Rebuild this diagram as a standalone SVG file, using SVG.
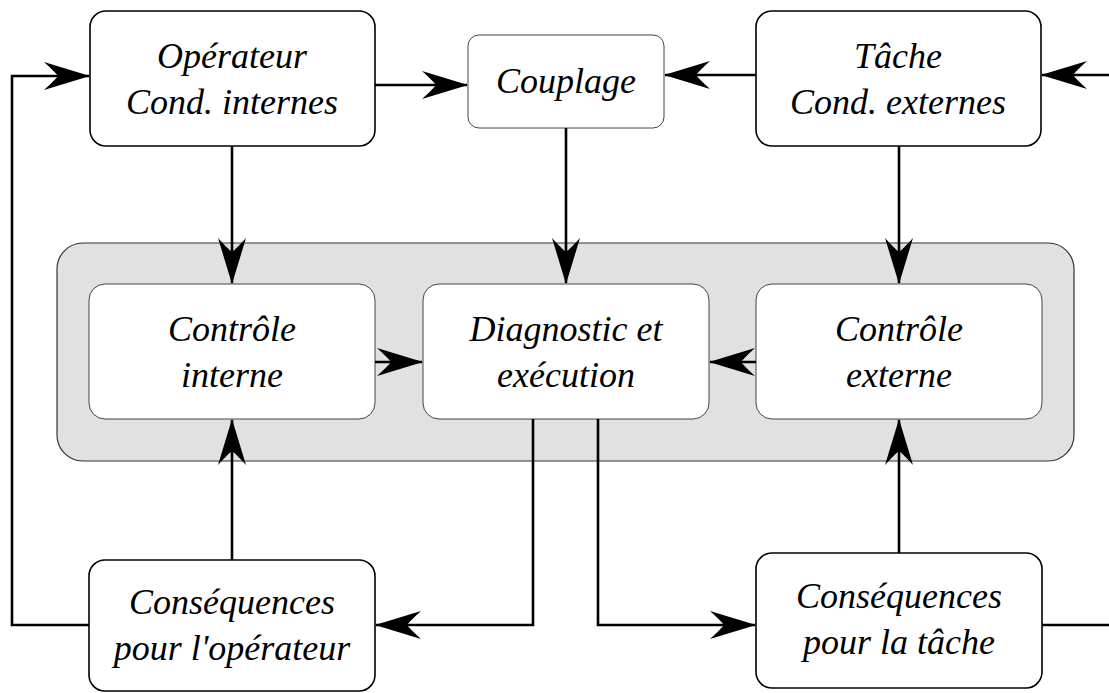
<svg xmlns="http://www.w3.org/2000/svg" width="1109" height="693" viewBox="0 0 1109 693">
  <style>
    .box { fill: #ffffff; stroke: #000000; stroke-width: 1.6; }
    .thin { stroke: #444444; stroke-width: 1; }
    .panel { fill: #e1e1e1; stroke: #333333; stroke-width: 1.2; }
    .lbl { font-family: "Liberation Serif", "DejaVu Serif", serif; font-style: italic; font-size: 36px; fill: #000000; text-anchor: middle; }
    .wire { fill: none; stroke: #000000; stroke-width: 2.6; stroke-linejoin: miter; }
  </style>
  <defs>
    <marker id="dart" markerUnits="userSpaceOnUse" viewBox="-48 -16 50 32" refX="0" refY="0" markerWidth="50" markerHeight="32" orient="auto">
      <path d="M1,0 L-45,-14 Q-34,-4 -31,0 Q-34,4 -45,14 Z" fill="#000000"/>
    </marker>
  </defs>

  <!-- shaded control block -->
  <rect id="panel" class="panel" x="57" y="243" width="1017" height="218" rx="26" ry="26"/>

  <g id="operateur">
    <rect class="box" x="90" y="11" width="285" height="135" rx="16"/>
    <text class="lbl" x="232" y="68">Opérateur</text>
    <text class="lbl" x="232" y="114">Cond. internes</text>
  </g>

  <g id="couplage">
    <rect class="box thin" x="468" y="35" width="196" height="93" rx="11"/>
    <text class="lbl" x="566" y="93">Couplage</text>
  </g>

  <g id="tache">
    <rect class="box" x="756" y="11" width="285" height="135" rx="16"/>
    <text class="lbl" x="898" y="68">Tâche</text>
    <text class="lbl" x="898" y="114">Cond. externes</text>
  </g>

  <g id="controle-interne">
    <rect class="box thin" x="89" y="284" width="286" height="135" rx="16"/>
    <text class="lbl" x="232" y="341">Contrôle</text>
    <text class="lbl" x="232" y="387">interne</text>
  </g>

  <g id="diagnostic">
    <rect class="box thin" x="423" y="284" width="286" height="135" rx="16"/>
    <text class="lbl" x="566" y="341">Diagnostic et</text>
    <text class="lbl" x="566" y="387">exécution</text>
  </g>

  <g id="controle-externe">
    <rect class="box thin" x="756" y="284" width="286" height="135" rx="16"/>
    <text class="lbl" x="899" y="341">Contrôle</text>
    <text class="lbl" x="899" y="387">externe</text>
  </g>

  <g id="consequences-operateur">
    <rect class="box" x="89" y="560" width="286" height="131" rx="16"/>
    <text class="lbl" x="232" y="614">Conséquences</text>
    <text class="lbl" x="232" y="660">pour l'opérateur</text>
  </g>

  <g id="consequences-tache">
    <rect class="box" x="756" y="553" width="286" height="135" rx="16"/>
    <text class="lbl" x="899" y="608">Conséquences</text>
    <text class="lbl" x="899" y="654">pour la tâche</text>
  </g>

  <g id="connectors">
    <!-- top row -->
    <path class="wire" d="M375,85 H467" marker-end="url(#dart)"/>
    <path class="wire" d="M756,75 H665" marker-end="url(#dart)"/>
    <path class="wire" d="M1109,75 H1042" marker-end="url(#dart)"/>
    <!-- down into the control block -->
    <path class="wire" d="M232,146 V283" marker-end="url(#dart)"/>
    <path class="wire" d="M566,128 V283" marker-end="url(#dart)"/>
    <path class="wire" d="M899,146 V283" marker-end="url(#dart)"/>
    <!-- inside the block -->
    <path class="wire" d="M375,362 H422" marker-end="url(#dart)"/>
    <path class="wire" d="M756,362 H710" marker-end="url(#dart)"/>
    <!-- consequences feeding back up -->
    <path class="wire" d="M232,560 V420" marker-end="url(#dart)"/>
    <path class="wire" d="M899,553 V420" marker-end="url(#dart)"/>
    <!-- diagnostic outputs -->
    <path class="wire" d="M533,419 V625 H376" marker-end="url(#dart)"/>
    <path class="wire" d="M598,419 V625 H755" marker-end="url(#dart)"/>
    <!-- outer loops -->
    <path class="wire" d="M89,625 H12 V76 H89" marker-end="url(#dart)"/>
    <path class="wire" d="M1042,625 H1109"/>
  </g>
</svg>
